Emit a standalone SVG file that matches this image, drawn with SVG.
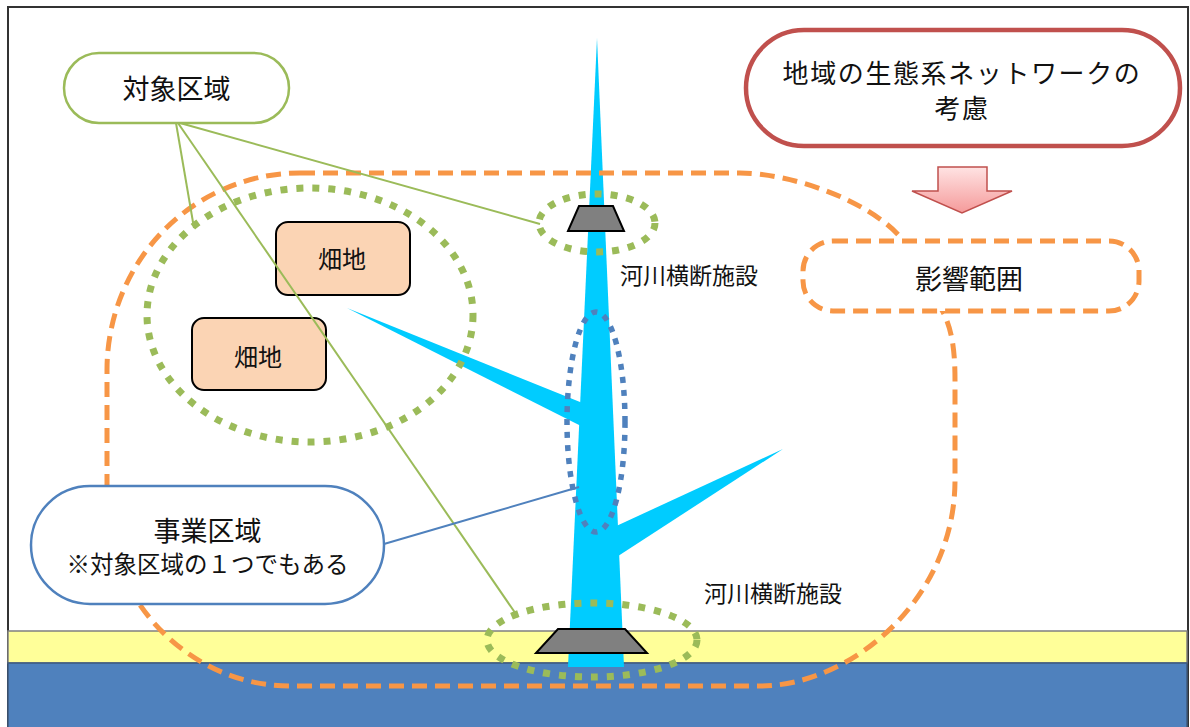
<svg xmlns="http://www.w3.org/2000/svg" width="1190" height="727" viewBox="0 0 1190 727">
<defs>
<style>
text{font-family:"Noto Sans CJK JP","Noto Sans",sans-serif;fill:#111;text-anchor:middle}
.gdot{fill:none;stroke:#9BBB59;stroke-width:7;stroke-dasharray:7 9}
.bdot{fill:none;stroke:#4F81BD;stroke-width:5.5;stroke-dasharray:6 7}
.odash{fill:none;stroke:#F79646;stroke-width:5;stroke-dasharray:15 8}
.river{fill:#00CCFF}
.weir{fill:#808080;stroke:#000;stroke-width:2}
.field{fill:#FBD4B4;stroke:#000;stroke-width:2}
.gline{stroke:#9BBB59;stroke-width:2;fill:none}
.bline{stroke:#4F81BD;stroke-width:2;fill:none}
</style>
<linearGradient id="arrowGrad" x1="0" y1="0" x2="0" y2="1">
<stop offset="0" stop-color="#FFE3E3"/>
<stop offset="1" stop-color="#F59A9A"/>
</linearGradient>
</defs>
<rect x="0" y="0" width="1190" height="727" fill="#fff"/>
<rect id="frame" x="8" y="7" width="1180" height="730" fill="#fff" stroke="#333" stroke-width="2"/>
<g id="ground">
<rect x="8" y="631" width="1179" height="32" fill="#FFFF99" stroke="#808080" stroke-width="1.5"/>
<rect x="8" y="663" width="1179" height="70" fill="#4F81BD" stroke="#3E5A7E" stroke-width="1.5"/>
</g>
<g id="river">
<polygon class="river" points="597,38 624,667 568,667"/>
<polygon class="river" points="347,308 585,404 585,428"/>
<polygon class="river" points="783,449 612,528 612,560"/>
</g>
<g id="weir-top"><polygon class="weir" points="579,206 613,206 624,231 568,231"/></g>
<g id="weir-bottom"><polygon class="weir" points="558,629 625,629 647,653 536,653"/></g>
<g id="zones">
<ellipse class="gdot" cx="310" cy="315" rx="163" ry="127"/>
<ellipse class="gdot" cx="597" cy="223" rx="58" ry="29"/>
<ellipse class="gdot" cx="592" cy="640" rx="105" ry="37"/>
<ellipse class="bdot" cx="596" cy="422" rx="29" ry="110"/>
<path class="odash" d="M300,173 L740,173 C790,173 870,200 903,240 L943,312 C952,330 955,350 955,380 L955,480 C955,600 850,686 760,686 L290,686 C190,686 107,600 107,500 L107,370 A193,197 0 0 1 300,173 Z"/>
</g>
<g id="field1"><rect class="field" x="276" y="222" width="134" height="73" rx="12"/><text x="342" y="268" font-size="24">畑地</text></g>
<g id="field2"><rect class="field" x="192" y="318" width="134" height="72" rx="12"/><text x="258" y="366" font-size="24">畑地</text></g>
<g id="connectors">
<line class="gline" x1="176" y1="123" x2="194" y2="228"/>
<line class="gline" x1="178" y1="123" x2="518" y2="617"/>
<line class="gline" x1="180" y1="123" x2="540" y2="224"/>
<line class="bline" x1="384" y1="544" x2="579" y2="487"/>
</g>
<g id="label-weir-top"><text x="689" y="284" font-size="23">河川横断施設</text></g>
<g id="label-weir-bottom"><text x="773" y="602" font-size="23">河川横断施設</text></g>
<g id="target-area">
<rect x="64" y="53" width="225" height="70" rx="35" fill="#fff" stroke="#9BBB59" stroke-width="2.5"/>
<text x="176.5" y="99" font-size="27">対象区域</text>
</g>
<g id="project-area">
<rect x="31" y="486" width="353" height="118" rx="59" fill="#fff" stroke="#4F81BD" stroke-width="2.5"/>
<text x="207.5" y="541" font-size="27">事業区域</text>
<text x="207.5" y="573" font-size="23.5">※対象区域の１つでもある</text>
</g>
<g id="network">
<rect x="746" y="30" width="434" height="116" rx="58" fill="#fff" stroke="#C0504D" stroke-width="4.5"/>
<text x="962" y="83" font-size="26" letter-spacing="1.6">地域の生態系ネットワークの</text>
<text x="962" y="118" font-size="26" letter-spacing="1.6">考慮</text>
</g>
<g id="arrow"><polygon points="938,167 987,167 987,191 1012,191 962,213 912,191 938,191" fill="url(#arrowGrad)" stroke="#C0504D" stroke-width="1.5"/></g>
<g id="influence">
<rect class="odash" x="803" y="241" width="336" height="70" rx="30" style="fill:#fff"/>
<text x="969" y="289" font-size="27">影響範囲</text>
</g>
</svg>
